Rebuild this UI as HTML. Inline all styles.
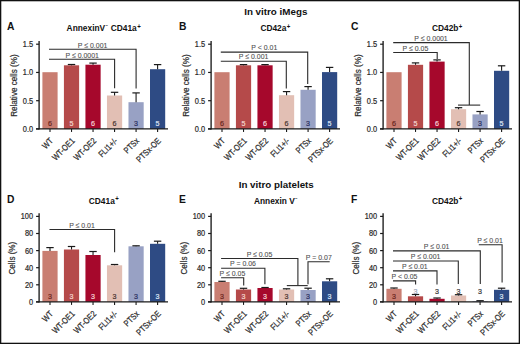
<!DOCTYPE html>
<html><head><meta charset="utf-8"><style>
html,body{margin:0;padding:0;background:#fff;}
body{width:520px;height:344px;overflow:hidden;}
.frame{position:absolute;left:0;top:0;width:520px;height:344px;box-sizing:border-box;}
svg{position:absolute;left:0;top:0;}
svg text{font-family:"Liberation Sans", sans-serif;}
</style></head><body>
<svg width="520" height="344" viewBox="0 0 520 344">
<rect x="0" y="0" width="520" height="344" fill="#fff"/>
<text transform="translate(7.10 30.00) scale(0.92 1)" font-size="11.2" text-anchor="start" font-weight="bold" fill="#111" >A</text>
<text transform="translate(66.60 31.00) scale(0.95 1)" font-size="8.8" font-weight="bold" fill="#111">AnnexinV<tspan font-size="4.6" dy="-3.6" dx="0.3">−</tspan><tspan dy="3.6" dx="0.5"> CD41a</tspan><tspan font-size="6.4" dy="-2.5" dx="0.4">+</tspan></text>
<rect x="42.40" y="72.20" width="15.2" height="56.75" fill="#c97e72"/>
<text transform="translate(50.00 126.00) scale(0.92 1)" font-size="7.8" text-anchor="middle" font-weight="normal" fill="#6a2620" stroke="#6a2620" stroke-width="0.22" >6</text>
<line x1="50.00" y1="128.95" x2="50.00" y2="131.95" stroke="#1a1a1a" stroke-width="1.1"/>
<text transform="translate(53.70 141.50) rotate(-45) scale(0.82 1)" font-size="8.8" text-anchor="end" font-weight="normal" fill="#2a2a2a" stroke="#2a2a2a" stroke-width="0.22" >WT</text>
<rect x="63.92" y="65.30" width="15.2" height="63.65" fill="#b54a4a"/>
<line x1="71.52" y1="64.50" x2="71.52" y2="65.30" stroke="#1a1a1a" stroke-width="1.1"/>
<line x1="67.82" y1="64.50" x2="75.22" y2="64.50" stroke="#1a1a1a" stroke-width="1.2"/>
<text transform="translate(71.52 126.00) scale(0.92 1)" font-size="7.8" text-anchor="middle" font-weight="normal" fill="#f4d6cf" stroke="#f4d6cf" stroke-width="0.22" >5</text>
<line x1="71.52" y1="128.95" x2="71.52" y2="131.95" stroke="#1a1a1a" stroke-width="1.1"/>
<text transform="translate(75.22 141.50) rotate(-45) scale(0.82 1)" font-size="8.8" text-anchor="end" font-weight="normal" fill="#2a2a2a" stroke="#2a2a2a" stroke-width="0.22" >WT-OE1</text>
<rect x="85.44" y="64.70" width="15.2" height="64.25" fill="#a6082c"/>
<line x1="93.04" y1="63.10" x2="93.04" y2="64.70" stroke="#1a1a1a" stroke-width="1.1"/>
<line x1="89.34" y1="63.10" x2="96.74" y2="63.10" stroke="#1a1a1a" stroke-width="1.2"/>
<text transform="translate(93.04 126.00) scale(0.92 1)" font-size="7.8" text-anchor="middle" font-weight="normal" fill="#f6d2d6" stroke="#f6d2d6" stroke-width="0.22" >6</text>
<line x1="93.04" y1="128.95" x2="93.04" y2="131.95" stroke="#1a1a1a" stroke-width="1.1"/>
<text transform="translate(96.74 141.50) rotate(-45) scale(0.82 1)" font-size="8.8" text-anchor="end" font-weight="normal" fill="#2a2a2a" stroke="#2a2a2a" stroke-width="0.22" >WT-OE2</text>
<rect x="106.96" y="95.50" width="15.2" height="33.45" fill="#e2bfb4"/>
<line x1="114.56" y1="92.30" x2="114.56" y2="95.50" stroke="#1a1a1a" stroke-width="1.1"/>
<line x1="110.86" y1="92.30" x2="118.26" y2="92.30" stroke="#1a1a1a" stroke-width="1.2"/>
<text transform="translate(114.56 126.00) scale(0.92 1)" font-size="7.8" text-anchor="middle" font-weight="normal" fill="#4a3530" stroke="#4a3530" stroke-width="0.22" >6</text>
<line x1="114.56" y1="128.95" x2="114.56" y2="131.95" stroke="#1a1a1a" stroke-width="1.1"/>
<text transform="translate(118.26 141.50) rotate(-45) scale(0.82 1)" font-size="8.8" text-anchor="end" font-weight="normal" fill="#2a2a2a" stroke="#2a2a2a" stroke-width="0.22" >FLI1+/-</text>
<rect x="128.48" y="102.20" width="15.2" height="26.75" fill="#98a1c4"/>
<line x1="136.08" y1="92.90" x2="136.08" y2="102.20" stroke="#1a1a1a" stroke-width="1.1"/>
<line x1="132.38" y1="92.90" x2="139.78" y2="92.90" stroke="#1a1a1a" stroke-width="1.2"/>
<text transform="translate(136.08 126.00) scale(0.92 1)" font-size="7.8" text-anchor="middle" font-weight="normal" fill="#2a3060" stroke="#2a3060" stroke-width="0.22" >3</text>
<line x1="136.08" y1="128.95" x2="136.08" y2="131.95" stroke="#1a1a1a" stroke-width="1.1"/>
<text transform="translate(139.78 141.50) rotate(-45) scale(0.82 1)" font-size="8.8" text-anchor="end" font-weight="normal" fill="#2a2a2a" stroke="#2a2a2a" stroke-width="0.22" >PTSx</text>
<rect x="150.00" y="69.20" width="15.2" height="59.75" fill="#2e4b84"/>
<line x1="157.60" y1="64.60" x2="157.60" y2="69.20" stroke="#1a1a1a" stroke-width="1.1"/>
<line x1="153.90" y1="64.60" x2="161.30" y2="64.60" stroke="#1a1a1a" stroke-width="1.2"/>
<text transform="translate(157.60 126.00) scale(0.92 1)" font-size="7.8" text-anchor="middle" font-weight="normal" fill="#dfe6f5" stroke="#dfe6f5" stroke-width="0.22" >5</text>
<line x1="157.60" y1="128.95" x2="157.60" y2="131.95" stroke="#1a1a1a" stroke-width="1.1"/>
<text transform="translate(161.30 141.50) rotate(-45) scale(0.82 1)" font-size="8.8" text-anchor="end" font-weight="normal" fill="#2a2a2a" stroke="#2a2a2a" stroke-width="0.22" >PTSx-OE</text>
<line x1="39.10" y1="41.00" x2="39.10" y2="129.55" stroke="#1a1a1a" stroke-width="1.35"/>
<line x1="36.00" y1="128.95" x2="168.00" y2="128.95" stroke="#1a1a1a" stroke-width="1.3"/>
<line x1="36.10" y1="44.20" x2="39.10" y2="44.20" stroke="#1a1a1a" stroke-width="1.2"/>
<text transform="translate(33.10 47.10) scale(0.88 1)" font-size="8.4" text-anchor="end" font-weight="normal" fill="#2a2a2a" stroke="#2a2a2a" stroke-width="0.22" >1.5</text>
<line x1="36.10" y1="72.45" x2="39.10" y2="72.45" stroke="#1a1a1a" stroke-width="1.2"/>
<text transform="translate(33.10 75.35) scale(0.88 1)" font-size="8.4" text-anchor="end" font-weight="normal" fill="#2a2a2a" stroke="#2a2a2a" stroke-width="0.22" >1.0</text>
<line x1="36.10" y1="100.70" x2="39.10" y2="100.70" stroke="#1a1a1a" stroke-width="1.2"/>
<text transform="translate(33.10 103.60) scale(0.88 1)" font-size="8.4" text-anchor="end" font-weight="normal" fill="#2a2a2a" stroke="#2a2a2a" stroke-width="0.22" >0.5</text>
<line x1="36.10" y1="128.95" x2="39.10" y2="128.95" stroke="#1a1a1a" stroke-width="1.2"/>
<text transform="translate(33.10 131.85) scale(0.88 1)" font-size="8.4" text-anchor="end" font-weight="normal" fill="#2a2a2a" stroke="#2a2a2a" stroke-width="0.22" >0.0</text>
<text transform="translate(17.40 85.57) rotate(-90) scale(0.825 1)" font-size="9.8" text-anchor="middle" font-weight="normal" fill="#2a2a2a" stroke="#2a2a2a" stroke-width="0.22" >Relative cells (%)</text>
<polyline points="49.00,49.20 136.10,49.20 136.10,88.60" fill="none" stroke="#2b2b2b" stroke-width="1.1" stroke-linejoin="miter"/>
<polyline points="49.00,59.20 114.60,59.20 114.60,88.30" fill="none" stroke="#2b2b2b" stroke-width="1.1" stroke-linejoin="miter"/>
<text transform="translate(92.60 47.60) scale(0.88 1)" font-size="7.9" text-anchor="middle" font-weight="normal" fill="#505050" stroke="#505050" stroke-width="0.1" >P ≤ 0.001</text>
<text transform="translate(82.20 57.60) scale(0.88 1)" font-size="7.9" text-anchor="middle" font-weight="normal" fill="#505050" stroke="#505050" stroke-width="0.1" >P ≤ 0.0001</text>
<text transform="translate(179.10 30.00) scale(0.92 1)" font-size="11.2" text-anchor="start" font-weight="bold" fill="#111" >B</text>
<text transform="translate(260.40 31.00) scale(0.95 1)" font-size="8.8" font-weight="bold" fill="#111">CD42a<tspan font-size="6.4" dy="-2.5" dx="0.4">+</tspan></text>
<rect x="214.40" y="72.20" width="15.2" height="56.75" fill="#c97e72"/>
<text transform="translate(222.00 126.00) scale(0.92 1)" font-size="7.8" text-anchor="middle" font-weight="normal" fill="#6a2620" stroke="#6a2620" stroke-width="0.22" >6</text>
<line x1="222.00" y1="128.95" x2="222.00" y2="131.95" stroke="#1a1a1a" stroke-width="1.1"/>
<text transform="translate(225.70 141.50) rotate(-45) scale(0.82 1)" font-size="8.8" text-anchor="end" font-weight="normal" fill="#2a2a2a" stroke="#2a2a2a" stroke-width="0.22" >WT</text>
<rect x="235.92" y="65.30" width="15.2" height="63.65" fill="#b54a4a"/>
<line x1="243.52" y1="64.60" x2="243.52" y2="65.30" stroke="#1a1a1a" stroke-width="1.1"/>
<line x1="239.82" y1="64.60" x2="247.22" y2="64.60" stroke="#1a1a1a" stroke-width="1.2"/>
<text transform="translate(243.52 126.00) scale(0.92 1)" font-size="7.8" text-anchor="middle" font-weight="normal" fill="#f4d6cf" stroke="#f4d6cf" stroke-width="0.22" >5</text>
<line x1="243.52" y1="128.95" x2="243.52" y2="131.95" stroke="#1a1a1a" stroke-width="1.1"/>
<text transform="translate(247.22 141.50) rotate(-45) scale(0.82 1)" font-size="8.8" text-anchor="end" font-weight="normal" fill="#2a2a2a" stroke="#2a2a2a" stroke-width="0.22" >WT-OE1</text>
<rect x="257.44" y="65.30" width="15.2" height="63.65" fill="#a6082c"/>
<line x1="265.04" y1="64.60" x2="265.04" y2="65.30" stroke="#1a1a1a" stroke-width="1.1"/>
<line x1="261.34" y1="64.60" x2="268.74" y2="64.60" stroke="#1a1a1a" stroke-width="1.2"/>
<text transform="translate(265.04 126.00) scale(0.92 1)" font-size="7.8" text-anchor="middle" font-weight="normal" fill="#f6d2d6" stroke="#f6d2d6" stroke-width="0.22" >6</text>
<line x1="265.04" y1="128.95" x2="265.04" y2="131.95" stroke="#1a1a1a" stroke-width="1.1"/>
<text transform="translate(268.74 141.50) rotate(-45) scale(0.82 1)" font-size="8.8" text-anchor="end" font-weight="normal" fill="#2a2a2a" stroke="#2a2a2a" stroke-width="0.22" >WT-OE2</text>
<rect x="278.96" y="95.20" width="15.2" height="33.75" fill="#e2bfb4"/>
<line x1="286.56" y1="91.60" x2="286.56" y2="95.20" stroke="#1a1a1a" stroke-width="1.1"/>
<line x1="282.86" y1="91.60" x2="290.26" y2="91.60" stroke="#1a1a1a" stroke-width="1.2"/>
<text transform="translate(286.56 126.00) scale(0.92 1)" font-size="7.8" text-anchor="middle" font-weight="normal" fill="#4a3530" stroke="#4a3530" stroke-width="0.22" >6</text>
<line x1="286.56" y1="128.95" x2="286.56" y2="131.95" stroke="#1a1a1a" stroke-width="1.1"/>
<text transform="translate(290.26 141.50) rotate(-45) scale(0.82 1)" font-size="8.8" text-anchor="end" font-weight="normal" fill="#2a2a2a" stroke="#2a2a2a" stroke-width="0.22" >FLI1+/-</text>
<rect x="300.48" y="89.80" width="15.2" height="39.15" fill="#98a1c4"/>
<line x1="308.08" y1="86.60" x2="308.08" y2="89.80" stroke="#1a1a1a" stroke-width="1.1"/>
<line x1="304.38" y1="86.60" x2="311.78" y2="86.60" stroke="#1a1a1a" stroke-width="1.2"/>
<text transform="translate(308.08 126.00) scale(0.92 1)" font-size="7.8" text-anchor="middle" font-weight="normal" fill="#2a3060" stroke="#2a3060" stroke-width="0.22" >3</text>
<line x1="308.08" y1="128.95" x2="308.08" y2="131.95" stroke="#1a1a1a" stroke-width="1.1"/>
<text transform="translate(311.78 141.50) rotate(-45) scale(0.82 1)" font-size="8.8" text-anchor="end" font-weight="normal" fill="#2a2a2a" stroke="#2a2a2a" stroke-width="0.22" >PTSx</text>
<rect x="322.00" y="72.10" width="15.2" height="56.85" fill="#2e4b84"/>
<line x1="329.60" y1="67.40" x2="329.60" y2="72.10" stroke="#1a1a1a" stroke-width="1.1"/>
<line x1="325.90" y1="67.40" x2="333.30" y2="67.40" stroke="#1a1a1a" stroke-width="1.2"/>
<text transform="translate(329.60 126.00) scale(0.92 1)" font-size="7.8" text-anchor="middle" font-weight="normal" fill="#dfe6f5" stroke="#dfe6f5" stroke-width="0.22" >5</text>
<line x1="329.60" y1="128.95" x2="329.60" y2="131.95" stroke="#1a1a1a" stroke-width="1.1"/>
<text transform="translate(333.30 141.50) rotate(-45) scale(0.82 1)" font-size="8.8" text-anchor="end" font-weight="normal" fill="#2a2a2a" stroke="#2a2a2a" stroke-width="0.22" >PTSx-OE</text>
<line x1="211.10" y1="41.00" x2="211.10" y2="129.55" stroke="#1a1a1a" stroke-width="1.35"/>
<line x1="208.00" y1="128.95" x2="340.00" y2="128.95" stroke="#1a1a1a" stroke-width="1.3"/>
<line x1="208.10" y1="44.20" x2="211.10" y2="44.20" stroke="#1a1a1a" stroke-width="1.2"/>
<text transform="translate(205.10 47.10) scale(0.88 1)" font-size="8.4" text-anchor="end" font-weight="normal" fill="#2a2a2a" stroke="#2a2a2a" stroke-width="0.22" >1.5</text>
<line x1="208.10" y1="72.45" x2="211.10" y2="72.45" stroke="#1a1a1a" stroke-width="1.2"/>
<text transform="translate(205.10 75.35) scale(0.88 1)" font-size="8.4" text-anchor="end" font-weight="normal" fill="#2a2a2a" stroke="#2a2a2a" stroke-width="0.22" >1.0</text>
<line x1="208.10" y1="100.70" x2="211.10" y2="100.70" stroke="#1a1a1a" stroke-width="1.2"/>
<text transform="translate(205.10 103.60) scale(0.88 1)" font-size="8.4" text-anchor="end" font-weight="normal" fill="#2a2a2a" stroke="#2a2a2a" stroke-width="0.22" >0.5</text>
<line x1="208.10" y1="128.95" x2="211.10" y2="128.95" stroke="#1a1a1a" stroke-width="1.2"/>
<text transform="translate(205.10 131.85) scale(0.88 1)" font-size="8.4" text-anchor="end" font-weight="normal" fill="#2a2a2a" stroke="#2a2a2a" stroke-width="0.22" >0.0</text>
<text transform="translate(189.40 85.57) rotate(-90) scale(0.825 1)" font-size="9.8" text-anchor="middle" font-weight="normal" fill="#2a2a2a" stroke="#2a2a2a" stroke-width="0.22" >Relative cells (%)</text>
<polyline points="220.80,52.10 307.70,52.10 307.70,84.00" fill="none" stroke="#2b2b2b" stroke-width="1.1" stroke-linejoin="miter"/>
<polyline points="220.80,61.20 286.30,61.20 286.30,88.60" fill="none" stroke="#2b2b2b" stroke-width="1.1" stroke-linejoin="miter"/>
<text transform="translate(264.30 50.20) scale(0.88 1)" font-size="7.9" text-anchor="middle" font-weight="normal" fill="#505050" stroke="#505050" stroke-width="0.1" >P &lt; 0.01</text>
<text transform="translate(253.60 59.20) scale(0.88 1)" font-size="7.9" text-anchor="middle" font-weight="normal" fill="#505050" stroke="#505050" stroke-width="0.1" >P ≤ 0.001</text>
<text transform="translate(351.10 30.00) scale(0.92 1)" font-size="11.2" text-anchor="start" font-weight="bold" fill="#111" >C</text>
<text transform="translate(432.00 31.00) scale(0.95 1)" font-size="8.8" font-weight="bold" fill="#111">CD42b<tspan font-size="6.4" dy="-2.5" dx="0.4">+</tspan></text>
<rect x="386.40" y="72.20" width="15.2" height="56.75" fill="#c97e72"/>
<text transform="translate(394.00 126.00) scale(0.92 1)" font-size="7.8" text-anchor="middle" font-weight="normal" fill="#6a2620" stroke="#6a2620" stroke-width="0.22" >6</text>
<line x1="394.00" y1="128.95" x2="394.00" y2="131.95" stroke="#1a1a1a" stroke-width="1.1"/>
<text transform="translate(397.70 141.50) rotate(-45) scale(0.82 1)" font-size="8.8" text-anchor="end" font-weight="normal" fill="#2a2a2a" stroke="#2a2a2a" stroke-width="0.22" >WT</text>
<rect x="407.92" y="64.80" width="15.2" height="64.15" fill="#b54a4a"/>
<line x1="415.52" y1="62.90" x2="415.52" y2="64.80" stroke="#1a1a1a" stroke-width="1.1"/>
<line x1="411.82" y1="62.90" x2="419.22" y2="62.90" stroke="#1a1a1a" stroke-width="1.2"/>
<text transform="translate(415.52 126.00) scale(0.92 1)" font-size="7.8" text-anchor="middle" font-weight="normal" fill="#f4d6cf" stroke="#f4d6cf" stroke-width="0.22" >5</text>
<line x1="415.52" y1="128.95" x2="415.52" y2="131.95" stroke="#1a1a1a" stroke-width="1.1"/>
<text transform="translate(419.22 141.50) rotate(-45) scale(0.82 1)" font-size="8.8" text-anchor="end" font-weight="normal" fill="#2a2a2a" stroke="#2a2a2a" stroke-width="0.22" >WT-OE1</text>
<rect x="429.44" y="61.60" width="15.2" height="67.35" fill="#a6082c"/>
<line x1="437.04" y1="59.90" x2="437.04" y2="61.60" stroke="#1a1a1a" stroke-width="1.1"/>
<line x1="433.34" y1="59.90" x2="440.74" y2="59.90" stroke="#1a1a1a" stroke-width="1.2"/>
<text transform="translate(437.04 126.00) scale(0.92 1)" font-size="7.8" text-anchor="middle" font-weight="normal" fill="#f6d2d6" stroke="#f6d2d6" stroke-width="0.22" >6</text>
<line x1="437.04" y1="128.95" x2="437.04" y2="131.95" stroke="#1a1a1a" stroke-width="1.1"/>
<text transform="translate(440.74 141.50) rotate(-45) scale(0.82 1)" font-size="8.8" text-anchor="end" font-weight="normal" fill="#2a2a2a" stroke="#2a2a2a" stroke-width="0.22" >WT-OE2</text>
<rect x="450.96" y="109.20" width="15.2" height="19.75" fill="#e2bfb4"/>
<line x1="458.56" y1="107.70" x2="458.56" y2="109.20" stroke="#1a1a1a" stroke-width="1.1"/>
<line x1="454.86" y1="107.70" x2="462.26" y2="107.70" stroke="#1a1a1a" stroke-width="1.2"/>
<text transform="translate(458.56 126.00) scale(0.92 1)" font-size="7.8" text-anchor="middle" font-weight="normal" fill="#4a3530" stroke="#4a3530" stroke-width="0.22" >6</text>
<line x1="458.56" y1="128.95" x2="458.56" y2="131.95" stroke="#1a1a1a" stroke-width="1.1"/>
<text transform="translate(462.26 141.50) rotate(-45) scale(0.82 1)" font-size="8.8" text-anchor="end" font-weight="normal" fill="#2a2a2a" stroke="#2a2a2a" stroke-width="0.22" >FLI1+/-</text>
<rect x="472.48" y="114.40" width="15.2" height="14.55" fill="#98a1c4"/>
<line x1="480.08" y1="111.50" x2="480.08" y2="114.40" stroke="#1a1a1a" stroke-width="1.1"/>
<line x1="476.38" y1="111.50" x2="483.78" y2="111.50" stroke="#1a1a1a" stroke-width="1.2"/>
<text transform="translate(480.08 126.00) scale(0.92 1)" font-size="7.8" text-anchor="middle" font-weight="normal" fill="#2a3060" stroke="#2a3060" stroke-width="0.22" >3</text>
<line x1="480.08" y1="128.95" x2="480.08" y2="131.95" stroke="#1a1a1a" stroke-width="1.1"/>
<text transform="translate(483.78 141.50) rotate(-45) scale(0.82 1)" font-size="8.8" text-anchor="end" font-weight="normal" fill="#2a2a2a" stroke="#2a2a2a" stroke-width="0.22" >PTSx</text>
<rect x="494.00" y="70.80" width="15.2" height="58.15" fill="#2e4b84"/>
<line x1="501.60" y1="65.80" x2="501.60" y2="70.80" stroke="#1a1a1a" stroke-width="1.1"/>
<line x1="497.90" y1="65.80" x2="505.30" y2="65.80" stroke="#1a1a1a" stroke-width="1.2"/>
<text transform="translate(501.60 126.00) scale(0.92 1)" font-size="7.8" text-anchor="middle" font-weight="normal" fill="#dfe6f5" stroke="#dfe6f5" stroke-width="0.22" >5</text>
<line x1="501.60" y1="128.95" x2="501.60" y2="131.95" stroke="#1a1a1a" stroke-width="1.1"/>
<text transform="translate(505.30 141.50) rotate(-45) scale(0.82 1)" font-size="8.8" text-anchor="end" font-weight="normal" fill="#2a2a2a" stroke="#2a2a2a" stroke-width="0.22" >PTSx-OE</text>
<line x1="383.10" y1="41.00" x2="383.10" y2="129.55" stroke="#1a1a1a" stroke-width="1.35"/>
<line x1="380.00" y1="128.95" x2="512.00" y2="128.95" stroke="#1a1a1a" stroke-width="1.3"/>
<line x1="380.10" y1="44.20" x2="383.10" y2="44.20" stroke="#1a1a1a" stroke-width="1.2"/>
<text transform="translate(377.10 47.10) scale(0.88 1)" font-size="8.4" text-anchor="end" font-weight="normal" fill="#2a2a2a" stroke="#2a2a2a" stroke-width="0.22" >1.5</text>
<line x1="380.10" y1="72.45" x2="383.10" y2="72.45" stroke="#1a1a1a" stroke-width="1.2"/>
<text transform="translate(377.10 75.35) scale(0.88 1)" font-size="8.4" text-anchor="end" font-weight="normal" fill="#2a2a2a" stroke="#2a2a2a" stroke-width="0.22" >1.0</text>
<line x1="380.10" y1="100.70" x2="383.10" y2="100.70" stroke="#1a1a1a" stroke-width="1.2"/>
<text transform="translate(377.10 103.60) scale(0.88 1)" font-size="8.4" text-anchor="end" font-weight="normal" fill="#2a2a2a" stroke="#2a2a2a" stroke-width="0.22" >0.5</text>
<line x1="380.10" y1="128.95" x2="383.10" y2="128.95" stroke="#1a1a1a" stroke-width="1.2"/>
<text transform="translate(377.10 131.85) scale(0.88 1)" font-size="8.4" text-anchor="end" font-weight="normal" fill="#2a2a2a" stroke="#2a2a2a" stroke-width="0.22" >0.0</text>
<text transform="translate(361.40 85.57) rotate(-90) scale(0.825 1)" font-size="9.8" text-anchor="middle" font-weight="normal" fill="#2a2a2a" stroke="#2a2a2a" stroke-width="0.22" >Relative cells (%)</text>
<polyline points="393.20,42.60 469.30,42.60 469.30,105.10" fill="none" stroke="#2b2b2b" stroke-width="1.1" stroke-linejoin="miter"/>
<line x1="458.00" y1="105.10" x2="480.20" y2="105.10" stroke="#2b2b2b" stroke-width="1.1"/>
<polyline points="393.20,52.50 437.20,52.50 437.20,58.90" fill="none" stroke="#2b2b2b" stroke-width="1.1" stroke-linejoin="miter"/>
<text transform="translate(431.00 40.80) scale(0.88 1)" font-size="7.9" text-anchor="middle" font-weight="normal" fill="#505050" stroke="#505050" stroke-width="0.1" >P ≤ 0.0001</text>
<text transform="translate(415.40 50.80) scale(0.88 1)" font-size="7.9" text-anchor="middle" font-weight="normal" fill="#505050" stroke="#505050" stroke-width="0.1" >P ≤ 0.05</text>
<text transform="translate(7.10 202.95) scale(0.92 1)" font-size="11.2" text-anchor="start" font-weight="bold" fill="#111" >D</text>
<text transform="translate(88.80 203.95) scale(0.95 1)" font-size="8.8" font-weight="bold" fill="#111">CD41a<tspan font-size="6.4" dy="-2.5" dx="0.4">+</tspan></text>
<rect x="42.40" y="250.90" width="15.2" height="51.00" fill="#c97e72"/>
<line x1="50.00" y1="247.60" x2="50.00" y2="250.90" stroke="#1a1a1a" stroke-width="1.1"/>
<line x1="46.30" y1="247.60" x2="53.70" y2="247.60" stroke="#1a1a1a" stroke-width="1.2"/>
<text transform="translate(50.00 298.95) scale(0.92 1)" font-size="7.8" text-anchor="middle" font-weight="normal" fill="#6a2620" stroke="#6a2620" stroke-width="0.22" >3</text>
<line x1="50.00" y1="301.90" x2="50.00" y2="304.90" stroke="#1a1a1a" stroke-width="1.1"/>
<text transform="translate(53.70 314.45) rotate(-45) scale(0.82 1)" font-size="8.8" text-anchor="end" font-weight="normal" fill="#2a2a2a" stroke="#2a2a2a" stroke-width="0.22" >WT</text>
<rect x="63.92" y="249.50" width="15.2" height="52.40" fill="#b54a4a"/>
<line x1="71.52" y1="246.50" x2="71.52" y2="249.50" stroke="#1a1a1a" stroke-width="1.1"/>
<line x1="67.82" y1="246.50" x2="75.22" y2="246.50" stroke="#1a1a1a" stroke-width="1.2"/>
<text transform="translate(71.52 298.95) scale(0.92 1)" font-size="7.8" text-anchor="middle" font-weight="normal" fill="#f4d6cf" stroke="#f4d6cf" stroke-width="0.22" >3</text>
<line x1="71.52" y1="301.90" x2="71.52" y2="304.90" stroke="#1a1a1a" stroke-width="1.1"/>
<text transform="translate(75.22 314.45) rotate(-45) scale(0.82 1)" font-size="8.8" text-anchor="end" font-weight="normal" fill="#2a2a2a" stroke="#2a2a2a" stroke-width="0.22" >WT-OE1</text>
<rect x="85.44" y="255.00" width="15.2" height="46.90" fill="#a6082c"/>
<line x1="93.04" y1="251.50" x2="93.04" y2="255.00" stroke="#1a1a1a" stroke-width="1.1"/>
<line x1="89.34" y1="251.50" x2="96.74" y2="251.50" stroke="#1a1a1a" stroke-width="1.2"/>
<text transform="translate(93.04 298.95) scale(0.92 1)" font-size="7.8" text-anchor="middle" font-weight="normal" fill="#f6d2d6" stroke="#f6d2d6" stroke-width="0.22" >3</text>
<line x1="93.04" y1="301.90" x2="93.04" y2="304.90" stroke="#1a1a1a" stroke-width="1.1"/>
<text transform="translate(96.74 314.45) rotate(-45) scale(0.82 1)" font-size="8.8" text-anchor="end" font-weight="normal" fill="#2a2a2a" stroke="#2a2a2a" stroke-width="0.22" >WT-OE2</text>
<rect x="106.96" y="265.30" width="15.2" height="36.60" fill="#e2bfb4"/>
<line x1="114.56" y1="264.50" x2="114.56" y2="265.30" stroke="#1a1a1a" stroke-width="1.1"/>
<line x1="110.86" y1="264.50" x2="118.26" y2="264.50" stroke="#1a1a1a" stroke-width="1.2"/>
<text transform="translate(114.56 298.95) scale(0.92 1)" font-size="7.8" text-anchor="middle" font-weight="normal" fill="#4a3530" stroke="#4a3530" stroke-width="0.22" >3</text>
<line x1="114.56" y1="301.90" x2="114.56" y2="304.90" stroke="#1a1a1a" stroke-width="1.1"/>
<text transform="translate(118.26 314.45) rotate(-45) scale(0.82 1)" font-size="8.8" text-anchor="end" font-weight="normal" fill="#2a2a2a" stroke="#2a2a2a" stroke-width="0.22" >FLI1+/-</text>
<rect x="128.48" y="246.30" width="15.2" height="55.60" fill="#98a1c4"/>
<line x1="136.08" y1="245.80" x2="136.08" y2="246.30" stroke="#1a1a1a" stroke-width="1.1"/>
<line x1="132.38" y1="245.80" x2="139.78" y2="245.80" stroke="#1a1a1a" stroke-width="1.2"/>
<text transform="translate(136.08 298.95) scale(0.92 1)" font-size="7.8" text-anchor="middle" font-weight="normal" fill="#2a3060" stroke="#2a3060" stroke-width="0.22" >3</text>
<line x1="136.08" y1="301.90" x2="136.08" y2="304.90" stroke="#1a1a1a" stroke-width="1.1"/>
<text transform="translate(139.78 314.45) rotate(-45) scale(0.82 1)" font-size="8.8" text-anchor="end" font-weight="normal" fill="#2a2a2a" stroke="#2a2a2a" stroke-width="0.22" >PTSx</text>
<rect x="150.00" y="243.80" width="15.2" height="58.10" fill="#2e4b84"/>
<line x1="157.60" y1="241.20" x2="157.60" y2="243.80" stroke="#1a1a1a" stroke-width="1.1"/>
<line x1="153.90" y1="241.20" x2="161.30" y2="241.20" stroke="#1a1a1a" stroke-width="1.2"/>
<text transform="translate(157.60 298.95) scale(0.92 1)" font-size="7.8" text-anchor="middle" font-weight="normal" fill="#dfe6f5" stroke="#dfe6f5" stroke-width="0.22" >3</text>
<line x1="157.60" y1="301.90" x2="157.60" y2="304.90" stroke="#1a1a1a" stroke-width="1.1"/>
<text transform="translate(161.30 314.45) rotate(-45) scale(0.82 1)" font-size="8.8" text-anchor="end" font-weight="normal" fill="#2a2a2a" stroke="#2a2a2a" stroke-width="0.22" >PTSx-OE</text>
<line x1="39.10" y1="213.20" x2="39.10" y2="302.50" stroke="#1a1a1a" stroke-width="1.35"/>
<line x1="36.00" y1="301.90" x2="168.00" y2="301.90" stroke="#1a1a1a" stroke-width="1.3"/>
<line x1="36.10" y1="216.40" x2="39.10" y2="216.40" stroke="#1a1a1a" stroke-width="1.2"/>
<text transform="translate(33.10 219.30) scale(0.88 1)" font-size="8.4" text-anchor="end" font-weight="normal" fill="#2a2a2a" stroke="#2a2a2a" stroke-width="0.22" >100</text>
<line x1="36.10" y1="233.50" x2="39.10" y2="233.50" stroke="#1a1a1a" stroke-width="1.2"/>
<text transform="translate(33.10 236.40) scale(0.88 1)" font-size="8.4" text-anchor="end" font-weight="normal" fill="#2a2a2a" stroke="#2a2a2a" stroke-width="0.22" >80</text>
<line x1="36.10" y1="250.60" x2="39.10" y2="250.60" stroke="#1a1a1a" stroke-width="1.2"/>
<text transform="translate(33.10 253.50) scale(0.88 1)" font-size="8.4" text-anchor="end" font-weight="normal" fill="#2a2a2a" stroke="#2a2a2a" stroke-width="0.22" >60</text>
<line x1="36.10" y1="267.70" x2="39.10" y2="267.70" stroke="#1a1a1a" stroke-width="1.2"/>
<text transform="translate(33.10 270.60) scale(0.88 1)" font-size="8.4" text-anchor="end" font-weight="normal" fill="#2a2a2a" stroke="#2a2a2a" stroke-width="0.22" >40</text>
<line x1="36.10" y1="284.80" x2="39.10" y2="284.80" stroke="#1a1a1a" stroke-width="1.2"/>
<text transform="translate(33.10 287.70) scale(0.88 1)" font-size="8.4" text-anchor="end" font-weight="normal" fill="#2a2a2a" stroke="#2a2a2a" stroke-width="0.22" >20</text>
<line x1="36.10" y1="301.90" x2="39.10" y2="301.90" stroke="#1a1a1a" stroke-width="1.2"/>
<text transform="translate(33.10 304.80) scale(0.88 1)" font-size="8.4" text-anchor="end" font-weight="normal" fill="#2a2a2a" stroke="#2a2a2a" stroke-width="0.22" >0</text>
<text transform="translate(15.20 258.15) rotate(-90) scale(0.825 1)" font-size="9.8" text-anchor="middle" font-weight="normal" fill="#2a2a2a" stroke="#2a2a2a" stroke-width="0.22" >Cells (%)</text>
<polyline points="49.50,229.50 114.60,229.50 114.60,252.30" fill="none" stroke="#2b2b2b" stroke-width="1.1" stroke-linejoin="miter"/>
<text transform="translate(82.00 227.60) scale(0.88 1)" font-size="7.9" text-anchor="middle" font-weight="normal" fill="#505050" stroke="#505050" stroke-width="0.1" >P ≤ 0.01</text>
<text transform="translate(179.10 202.95) scale(0.92 1)" font-size="11.2" text-anchor="start" font-weight="bold" fill="#111" >E</text>
<text transform="translate(253.90 203.95) scale(0.95 1)" font-size="8.8" font-weight="bold" fill="#111">Annexin V<tspan font-size="4.6" dy="-3.6" dx="0.3">−</tspan></text>
<rect x="214.40" y="282.00" width="15.2" height="19.90" fill="#c97e72"/>
<line x1="222.00" y1="281.30" x2="222.00" y2="282.00" stroke="#1a1a1a" stroke-width="1.1"/>
<line x1="218.30" y1="281.30" x2="225.70" y2="281.30" stroke="#1a1a1a" stroke-width="1.2"/>
<text transform="translate(222.00 298.95) scale(0.92 1)" font-size="7.8" text-anchor="middle" font-weight="normal" fill="#6a2620" stroke="#6a2620" stroke-width="0.22" >3</text>
<line x1="222.00" y1="301.90" x2="222.00" y2="304.90" stroke="#1a1a1a" stroke-width="1.1"/>
<text transform="translate(225.70 314.45) rotate(-45) scale(0.82 1)" font-size="8.8" text-anchor="end" font-weight="normal" fill="#2a2a2a" stroke="#2a2a2a" stroke-width="0.22" >WT</text>
<rect x="235.92" y="289.50" width="15.2" height="12.40" fill="#b54a4a"/>
<line x1="243.52" y1="288.30" x2="243.52" y2="289.50" stroke="#1a1a1a" stroke-width="1.1"/>
<line x1="239.82" y1="288.30" x2="247.22" y2="288.30" stroke="#1a1a1a" stroke-width="1.2"/>
<text transform="translate(243.52 298.95) scale(0.92 1)" font-size="7.8" text-anchor="middle" font-weight="normal" fill="#f4d6cf" stroke="#f4d6cf" stroke-width="0.22" >3</text>
<line x1="243.52" y1="301.90" x2="243.52" y2="304.90" stroke="#1a1a1a" stroke-width="1.1"/>
<text transform="translate(247.22 314.45) rotate(-45) scale(0.82 1)" font-size="8.8" text-anchor="end" font-weight="normal" fill="#2a2a2a" stroke="#2a2a2a" stroke-width="0.22" >WT-OE1</text>
<rect x="257.44" y="288.00" width="15.2" height="13.90" fill="#a6082c"/>
<line x1="265.04" y1="287.50" x2="265.04" y2="288.00" stroke="#1a1a1a" stroke-width="1.1"/>
<line x1="261.34" y1="287.50" x2="268.74" y2="287.50" stroke="#1a1a1a" stroke-width="1.2"/>
<text transform="translate(265.04 298.95) scale(0.92 1)" font-size="7.8" text-anchor="middle" font-weight="normal" fill="#f6d2d6" stroke="#f6d2d6" stroke-width="0.22" >3</text>
<line x1="265.04" y1="301.90" x2="265.04" y2="304.90" stroke="#1a1a1a" stroke-width="1.1"/>
<text transform="translate(268.74 314.45) rotate(-45) scale(0.82 1)" font-size="8.8" text-anchor="end" font-weight="normal" fill="#2a2a2a" stroke="#2a2a2a" stroke-width="0.22" >WT-OE2</text>
<rect x="278.96" y="289.50" width="15.2" height="12.40" fill="#e2bfb4"/>
<line x1="286.56" y1="288.80" x2="286.56" y2="289.50" stroke="#1a1a1a" stroke-width="1.1"/>
<line x1="282.86" y1="288.80" x2="290.26" y2="288.80" stroke="#1a1a1a" stroke-width="1.2"/>
<text transform="translate(286.56 298.95) scale(0.92 1)" font-size="7.8" text-anchor="middle" font-weight="normal" fill="#4a3530" stroke="#4a3530" stroke-width="0.22" >3</text>
<line x1="286.56" y1="301.90" x2="286.56" y2="304.90" stroke="#1a1a1a" stroke-width="1.1"/>
<text transform="translate(290.26 314.45) rotate(-45) scale(0.82 1)" font-size="8.8" text-anchor="end" font-weight="normal" fill="#2a2a2a" stroke="#2a2a2a" stroke-width="0.22" >FLI1+/-</text>
<rect x="300.48" y="290.00" width="15.2" height="11.90" fill="#98a1c4"/>
<line x1="308.08" y1="288.20" x2="308.08" y2="290.00" stroke="#1a1a1a" stroke-width="1.1"/>
<line x1="304.38" y1="288.20" x2="311.78" y2="288.20" stroke="#1a1a1a" stroke-width="1.2"/>
<text transform="translate(308.08 298.95) scale(0.92 1)" font-size="7.8" text-anchor="middle" font-weight="normal" fill="#2a3060" stroke="#2a3060" stroke-width="0.22" >3</text>
<line x1="308.08" y1="301.90" x2="308.08" y2="304.90" stroke="#1a1a1a" stroke-width="1.1"/>
<text transform="translate(311.78 314.45) rotate(-45) scale(0.82 1)" font-size="8.8" text-anchor="end" font-weight="normal" fill="#2a2a2a" stroke="#2a2a2a" stroke-width="0.22" >PTSx</text>
<rect x="322.00" y="281.30" width="15.2" height="20.60" fill="#2e4b84"/>
<line x1="329.60" y1="278.80" x2="329.60" y2="281.30" stroke="#1a1a1a" stroke-width="1.1"/>
<line x1="325.90" y1="278.80" x2="333.30" y2="278.80" stroke="#1a1a1a" stroke-width="1.2"/>
<text transform="translate(329.60 298.95) scale(0.92 1)" font-size="7.8" text-anchor="middle" font-weight="normal" fill="#dfe6f5" stroke="#dfe6f5" stroke-width="0.22" >3</text>
<line x1="329.60" y1="301.90" x2="329.60" y2="304.90" stroke="#1a1a1a" stroke-width="1.1"/>
<text transform="translate(333.30 314.45) rotate(-45) scale(0.82 1)" font-size="8.8" text-anchor="end" font-weight="normal" fill="#2a2a2a" stroke="#2a2a2a" stroke-width="0.22" >PTSx-OE</text>
<line x1="211.10" y1="213.20" x2="211.10" y2="302.50" stroke="#1a1a1a" stroke-width="1.35"/>
<line x1="208.00" y1="301.90" x2="340.00" y2="301.90" stroke="#1a1a1a" stroke-width="1.3"/>
<line x1="208.10" y1="216.40" x2="211.10" y2="216.40" stroke="#1a1a1a" stroke-width="1.2"/>
<text transform="translate(205.10 219.30) scale(0.88 1)" font-size="8.4" text-anchor="end" font-weight="normal" fill="#2a2a2a" stroke="#2a2a2a" stroke-width="0.22" >100</text>
<line x1="208.10" y1="233.50" x2="211.10" y2="233.50" stroke="#1a1a1a" stroke-width="1.2"/>
<text transform="translate(205.10 236.40) scale(0.88 1)" font-size="8.4" text-anchor="end" font-weight="normal" fill="#2a2a2a" stroke="#2a2a2a" stroke-width="0.22" >80</text>
<line x1="208.10" y1="250.60" x2="211.10" y2="250.60" stroke="#1a1a1a" stroke-width="1.2"/>
<text transform="translate(205.10 253.50) scale(0.88 1)" font-size="8.4" text-anchor="end" font-weight="normal" fill="#2a2a2a" stroke="#2a2a2a" stroke-width="0.22" >60</text>
<line x1="208.10" y1="267.70" x2="211.10" y2="267.70" stroke="#1a1a1a" stroke-width="1.2"/>
<text transform="translate(205.10 270.60) scale(0.88 1)" font-size="8.4" text-anchor="end" font-weight="normal" fill="#2a2a2a" stroke="#2a2a2a" stroke-width="0.22" >40</text>
<line x1="208.10" y1="284.80" x2="211.10" y2="284.80" stroke="#1a1a1a" stroke-width="1.2"/>
<text transform="translate(205.10 287.70) scale(0.88 1)" font-size="8.4" text-anchor="end" font-weight="normal" fill="#2a2a2a" stroke="#2a2a2a" stroke-width="0.22" >20</text>
<line x1="208.10" y1="301.90" x2="211.10" y2="301.90" stroke="#1a1a1a" stroke-width="1.2"/>
<text transform="translate(205.10 304.80) scale(0.88 1)" font-size="8.4" text-anchor="end" font-weight="normal" fill="#2a2a2a" stroke="#2a2a2a" stroke-width="0.22" >0</text>
<text transform="translate(187.20 258.15) rotate(-90) scale(0.825 1)" font-size="9.8" text-anchor="middle" font-weight="normal" fill="#2a2a2a" stroke="#2a2a2a" stroke-width="0.22" >Cells (%)</text>
<polyline points="221.10,258.50 297.90,258.50 297.90,285.60" fill="none" stroke="#2b2b2b" stroke-width="1.1" stroke-linejoin="miter"/>
<line x1="286.80" y1="285.60" x2="307.70" y2="285.60" stroke="#2b2b2b" stroke-width="1.1"/>
<polyline points="221.10,268.30 264.90,268.30 264.90,284.20" fill="none" stroke="#2b2b2b" stroke-width="1.1" stroke-linejoin="miter"/>
<polyline points="221.10,277.70 243.70,277.70 243.70,285.50" fill="none" stroke="#2b2b2b" stroke-width="1.1" stroke-linejoin="miter"/>
<polyline points="329.70,261.80 308.00,261.80 308.00,284.30" fill="none" stroke="#2b2b2b" stroke-width="1.1" stroke-linejoin="miter"/>
<text transform="translate(259.50 256.60) scale(0.88 1)" font-size="7.9" text-anchor="middle" font-weight="normal" fill="#505050" stroke="#505050" stroke-width="0.1" >P ≤ 0.05</text>
<text transform="translate(243.00 266.40) scale(0.88 1)" font-size="7.9" text-anchor="middle" font-weight="normal" fill="#505050" stroke="#505050" stroke-width="0.1" >P = 0.06</text>
<text transform="translate(232.40 275.80) scale(0.88 1)" font-size="7.9" text-anchor="middle" font-weight="normal" fill="#505050" stroke="#505050" stroke-width="0.1" >P ≤ 0.05</text>
<text transform="translate(318.80 259.80) scale(0.88 1)" font-size="7.9" text-anchor="middle" font-weight="normal" fill="#505050" stroke="#505050" stroke-width="0.1" >P = 0.07</text>
<text transform="translate(351.10 202.95) scale(0.92 1)" font-size="11.2" text-anchor="start" font-weight="bold" fill="#111" >F</text>
<text transform="translate(432.00 203.95) scale(0.95 1)" font-size="8.8" font-weight="bold" fill="#111">CD42b<tspan font-size="6.4" dy="-2.5" dx="0.4">+</tspan></text>
<rect x="386.40" y="288.80" width="15.2" height="13.10" fill="#c97e72"/>
<line x1="394.00" y1="288.00" x2="394.00" y2="288.80" stroke="#1a1a1a" stroke-width="1.1"/>
<line x1="390.30" y1="288.00" x2="397.70" y2="288.00" stroke="#1a1a1a" stroke-width="1.2"/>
<text transform="translate(394.00 298.95) scale(0.92 1)" font-size="7.8" text-anchor="middle" font-weight="normal" fill="#6a2620" stroke="#6a2620" stroke-width="0.22" >3</text>
<line x1="394.00" y1="301.90" x2="394.00" y2="304.90" stroke="#1a1a1a" stroke-width="1.1"/>
<text transform="translate(397.70 314.45) rotate(-45) scale(0.82 1)" font-size="8.8" text-anchor="end" font-weight="normal" fill="#2a2a2a" stroke="#2a2a2a" stroke-width="0.22" >WT</text>
<rect x="407.92" y="296.30" width="15.2" height="5.60" fill="#b54a4a"/>
<line x1="415.52" y1="294.50" x2="415.52" y2="296.30" stroke="#1a1a1a" stroke-width="1.1"/>
<line x1="411.82" y1="294.50" x2="419.22" y2="294.50" stroke="#1a1a1a" stroke-width="1.2"/>
<text transform="translate(415.52 293.90) scale(0.92 1)" font-size="7.8" text-anchor="middle" font-weight="normal" fill="#9aa4b8" stroke="#9aa4b8" stroke-width="0.22" >3</text>
<line x1="415.52" y1="301.90" x2="415.52" y2="304.90" stroke="#1a1a1a" stroke-width="1.1"/>
<text transform="translate(419.22 314.45) rotate(-45) scale(0.82 1)" font-size="8.8" text-anchor="end" font-weight="normal" fill="#2a2a2a" stroke="#2a2a2a" stroke-width="0.22" >WT-OE1</text>
<rect x="429.44" y="298.80" width="15.2" height="3.10" fill="#a6082c"/>
<line x1="437.04" y1="298.00" x2="437.04" y2="298.80" stroke="#1a1a1a" stroke-width="1.1"/>
<line x1="433.34" y1="298.00" x2="440.74" y2="298.00" stroke="#1a1a1a" stroke-width="1.2"/>
<text transform="translate(437.04 293.60) scale(0.92 1)" font-size="7.8" text-anchor="middle" font-weight="normal" fill="#383838" stroke="#383838" stroke-width="0.22" >3</text>
<line x1="437.04" y1="301.90" x2="437.04" y2="304.90" stroke="#1a1a1a" stroke-width="1.1"/>
<text transform="translate(440.74 314.45) rotate(-45) scale(0.82 1)" font-size="8.8" text-anchor="end" font-weight="normal" fill="#2a2a2a" stroke="#2a2a2a" stroke-width="0.22" >WT-OE2</text>
<rect x="450.96" y="295.50" width="15.2" height="6.40" fill="#e2bfb4"/>
<line x1="458.56" y1="294.70" x2="458.56" y2="295.50" stroke="#1a1a1a" stroke-width="1.1"/>
<line x1="454.86" y1="294.70" x2="462.26" y2="294.70" stroke="#1a1a1a" stroke-width="1.2"/>
<text transform="translate(458.56 293.60) scale(0.92 1)" font-size="7.8" text-anchor="middle" font-weight="normal" fill="#383838" stroke="#383838" stroke-width="0.22" >3</text>
<line x1="458.56" y1="301.90" x2="458.56" y2="304.90" stroke="#1a1a1a" stroke-width="1.1"/>
<text transform="translate(462.26 314.45) rotate(-45) scale(0.82 1)" font-size="8.8" text-anchor="end" font-weight="normal" fill="#2a2a2a" stroke="#2a2a2a" stroke-width="0.22" >FLI1+/-</text>
<rect x="472.48" y="301.20" width="15.2" height="0.70" fill="#98a1c4"/>
<line x1="480.08" y1="300.70" x2="480.08" y2="301.20" stroke="#1a1a1a" stroke-width="1.1"/>
<line x1="476.38" y1="300.70" x2="483.78" y2="300.70" stroke="#1a1a1a" stroke-width="1.2"/>
<text transform="translate(480.08 293.60) scale(0.92 1)" font-size="7.8" text-anchor="middle" font-weight="normal" fill="#383838" stroke="#383838" stroke-width="0.22" >3</text>
<line x1="480.08" y1="301.90" x2="480.08" y2="304.90" stroke="#1a1a1a" stroke-width="1.1"/>
<text transform="translate(483.78 314.45) rotate(-45) scale(0.82 1)" font-size="8.8" text-anchor="end" font-weight="normal" fill="#2a2a2a" stroke="#2a2a2a" stroke-width="0.22" >PTSx</text>
<rect x="494.00" y="289.80" width="15.2" height="12.10" fill="#2e4b84"/>
<line x1="501.60" y1="288.20" x2="501.60" y2="289.80" stroke="#1a1a1a" stroke-width="1.1"/>
<line x1="497.90" y1="288.20" x2="505.30" y2="288.20" stroke="#1a1a1a" stroke-width="1.2"/>
<text transform="translate(501.60 298.95) scale(0.92 1)" font-size="7.8" text-anchor="middle" font-weight="normal" fill="#dfe6f5" stroke="#dfe6f5" stroke-width="0.22" >3</text>
<line x1="501.60" y1="301.90" x2="501.60" y2="304.90" stroke="#1a1a1a" stroke-width="1.1"/>
<text transform="translate(505.30 314.45) rotate(-45) scale(0.82 1)" font-size="8.8" text-anchor="end" font-weight="normal" fill="#2a2a2a" stroke="#2a2a2a" stroke-width="0.22" >PTSx-OE</text>
<line x1="383.10" y1="213.20" x2="383.10" y2="302.50" stroke="#1a1a1a" stroke-width="1.35"/>
<line x1="380.00" y1="301.90" x2="512.00" y2="301.90" stroke="#1a1a1a" stroke-width="1.3"/>
<line x1="380.10" y1="216.40" x2="383.10" y2="216.40" stroke="#1a1a1a" stroke-width="1.2"/>
<text transform="translate(377.10 219.30) scale(0.88 1)" font-size="8.4" text-anchor="end" font-weight="normal" fill="#2a2a2a" stroke="#2a2a2a" stroke-width="0.22" >100</text>
<line x1="380.10" y1="233.50" x2="383.10" y2="233.50" stroke="#1a1a1a" stroke-width="1.2"/>
<text transform="translate(377.10 236.40) scale(0.88 1)" font-size="8.4" text-anchor="end" font-weight="normal" fill="#2a2a2a" stroke="#2a2a2a" stroke-width="0.22" >80</text>
<line x1="380.10" y1="250.60" x2="383.10" y2="250.60" stroke="#1a1a1a" stroke-width="1.2"/>
<text transform="translate(377.10 253.50) scale(0.88 1)" font-size="8.4" text-anchor="end" font-weight="normal" fill="#2a2a2a" stroke="#2a2a2a" stroke-width="0.22" >60</text>
<line x1="380.10" y1="267.70" x2="383.10" y2="267.70" stroke="#1a1a1a" stroke-width="1.2"/>
<text transform="translate(377.10 270.60) scale(0.88 1)" font-size="8.4" text-anchor="end" font-weight="normal" fill="#2a2a2a" stroke="#2a2a2a" stroke-width="0.22" >40</text>
<line x1="380.10" y1="284.80" x2="383.10" y2="284.80" stroke="#1a1a1a" stroke-width="1.2"/>
<text transform="translate(377.10 287.70) scale(0.88 1)" font-size="8.4" text-anchor="end" font-weight="normal" fill="#2a2a2a" stroke="#2a2a2a" stroke-width="0.22" >20</text>
<line x1="380.10" y1="301.90" x2="383.10" y2="301.90" stroke="#1a1a1a" stroke-width="1.2"/>
<text transform="translate(377.10 304.80) scale(0.88 1)" font-size="8.4" text-anchor="end" font-weight="normal" fill="#2a2a2a" stroke="#2a2a2a" stroke-width="0.22" >0</text>
<text transform="translate(359.20 258.15) rotate(-90) scale(0.825 1)" font-size="9.8" text-anchor="middle" font-weight="normal" fill="#2a2a2a" stroke="#2a2a2a" stroke-width="0.22" >Cells (%)</text>
<polyline points="393.00,250.90 480.30,250.90 480.30,284.00" fill="none" stroke="#2b2b2b" stroke-width="1.1" stroke-linejoin="miter"/>
<polyline points="393.00,261.00 458.30,261.00 458.30,284.00" fill="none" stroke="#2b2b2b" stroke-width="1.1" stroke-linejoin="miter"/>
<polyline points="393.00,270.90 437.00,270.90 437.00,284.40" fill="none" stroke="#2b2b2b" stroke-width="1.1" stroke-linejoin="miter"/>
<polyline points="393.00,280.90 415.60,280.90 415.60,284.60" fill="none" stroke="#2b2b2b" stroke-width="1.1" stroke-linejoin="miter"/>
<polyline points="478.80,244.80 502.10,244.80 502.10,282.50" fill="none" stroke="#2b2b2b" stroke-width="1.1" stroke-linejoin="miter"/>
<text transform="translate(436.60 249.00) scale(0.88 1)" font-size="7.9" text-anchor="middle" font-weight="normal" fill="#505050" stroke="#505050" stroke-width="0.1" >P ≤ 0.01</text>
<text transform="translate(425.60 259.20) scale(0.88 1)" font-size="7.9" text-anchor="middle" font-weight="normal" fill="#505050" stroke="#505050" stroke-width="0.1" >P ≤ 0.001</text>
<text transform="translate(414.80 268.60) scale(0.88 1)" font-size="7.9" text-anchor="middle" font-weight="normal" fill="#505050" stroke="#505050" stroke-width="0.1" >P ≤ 0.01</text>
<text transform="translate(404.50 278.60) scale(0.88 1)" font-size="7.9" text-anchor="middle" font-weight="normal" fill="#505050" stroke="#505050" stroke-width="0.1" >P &lt; 0.05</text>
<text transform="translate(490.00 243.00) scale(0.88 1)" font-size="7.9" text-anchor="middle" font-weight="normal" fill="#505050" stroke="#505050" stroke-width="0.1" >P ≤ 0.01</text>
<text transform="translate(244.20 14.60) scale(0.99 1)" font-size="9.9" text-anchor="start" font-weight="bold" fill="#111" >In vitro iMegs</text>
<text transform="translate(238.70 187.80) scale(0.99 1)" font-size="9.9" text-anchor="start" font-weight="bold" fill="#111" >In vitro platelets</text>
<rect x="0.65" y="0.65" width="518.7" height="342.7" fill="none" stroke="#111" stroke-width="1.3"/>
</svg>
</body></html>
